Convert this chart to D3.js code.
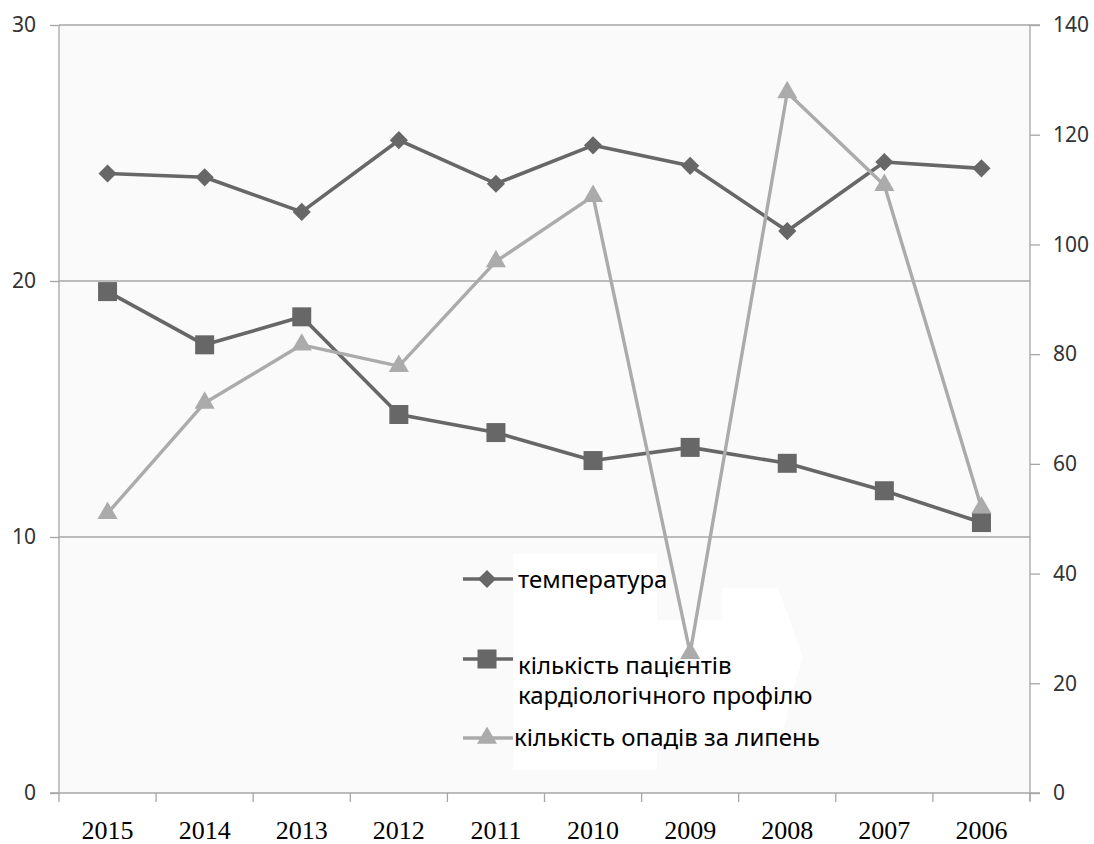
<!DOCTYPE html>
<html>
<head>
<meta charset="utf-8">
<script src="https://cdn.jsdelivr.net/npm/d3@7/dist/d3.min.js"></script>
<style>
  html, body { margin: 0; padding: 0; background: #ffffff; }
  svg { display: block; }
</style>
</head>
<body>
<svg id="chart" width="1094" height="844"></svg>
<script>
// ---- data ----
const years = ["2015","2014","2013","2012","2011","2010","2009","2008","2007","2006"];
const temperature = [24.2, 24.05, 22.7, 25.5, 23.8, 25.3, 24.5, 21.95, 24.65, 24.4];
const patients = [91.4, 81.7, 86.8, 69.0, 65.7, 60.6, 63.0, 60.1, 55.1, 49.3];
const rainfall = [51.0, 71.1, 81.7, 77.8, 96.9, 108.8, 25.5, 127.7, 110.8, 52.0];
const leftTicks = [0, 10, 20, 30];
const rightTicks = [0, 20, 40, 60, 80, 100, 120, 140];
const gridValues = [10, 20, 30];
const legendLabels = [["температура"], ["кількість пацієнтів", "кардіологічного профілю"], ["кількість опадів за липень"]];

// ---- layout ----
const L = 59, R = 1030, T = 25, B = 793;
const dark = "#676767", light = "#ababab", axisCol = "#a6a6a6";
const svg = d3.select("#chart");

const x = d3.scaleBand().domain(years).range([L, R]).paddingInner(0).paddingOuter(0);
const yL = d3.scaleLinear().domain([0, 30]).range([B, T]);
const yR = d3.scaleLinear().domain([0, 140]).range([B, T]);

// plot background
svg.append("rect").attr("x", L).attr("y", T).attr("width", R - L).attr("height", B - T).attr("fill", "#fafafa");

// white legend backdrop shapes
svg.append("rect").attr("x", 513).attr("y", 554).attr("width", 144).attr("height", 216).attr("fill", "#ffffff");
svg.append("path").attr("d", "M657,747 L657,620 L722,620 L722,588 L778,588 L803,657 L790,700 L780,747 Z").attr("fill", "#ffffff");

// gridlines
svg.append("g").selectAll("line").data(gridValues).join("line")
  .attr("x1", L).attr("x2", R).attr("y1", d => yL(d)).attr("y2", d => yL(d))
  .attr("stroke", axisCol).attr("stroke-width", 1.3);

// left axis
const gLeft = svg.append("g").attr("transform", `translate(${L},0)`)
  .call(d3.axisLeft(yL).tickValues(leftTicks).tickSize(9).tickPadding(14).tickFormat(d3.format("d")));
// right axis
const gRight = svg.append("g").attr("transform", `translate(${R},0)`)
  .call(d3.axisRight(yR).tickValues(rightTicks).tickSize(10).tickPadding(13).tickFormat(d3.format("d")));
[gLeft, gRight].forEach(g => {
  g.select(".domain").attr("stroke", axisCol).attr("stroke-width", 1.3);
  g.selectAll(".tick line").attr("stroke", axisCol).attr("stroke-width", 1.3);
  g.selectAll(".tick text").attr("fill", "#333333").style("font-family", "'Noto Sans', sans-serif").style("font-size", "21px");
});
gRight.select(".domain").attr("d", `M10,${T}H0V${B + 8}`);
gLeft.select(".domain").attr("d", `M0,${T}V${B}`);

// bottom axis
const gBottom = svg.append("g").attr("transform", `translate(0,${B})`)
  .call(d3.axisBottom(x).tickSize(0).tickPadding(28));
gBottom.select(".domain").attr("d", `M${L - 9},0H${R + 10}`).attr("stroke", axisCol).attr("stroke-width", 1.3);
gBottom.selectAll(".tick text").attr("fill", "#000").style("font-family", "'Liberation Serif', serif").style("font-size", "26px");
const boundaries = years.map(d => x(d)).concat([x(years[years.length - 1]) + x.bandwidth()]);
gBottom.append("g").selectAll("line").data(boundaries).join("line")
  .attr("x1", d => d).attr("x2", d => d).attr("y1", 0).attr("y2", 9)
  .attr("stroke", axisCol).attr("stroke-width", 1.3);

// series
const cx = d => x(d) + x.bandwidth() / 2;
const series = [
  { vals: temperature, scale: yL, color: dark, width: 3.6, sym: d3.symbolSquare, size: 165, rot: 45 },
  { vals: patients, scale: yR, color: dark, width: 3.6, sym: d3.symbolSquare, size: 361, rot: 0 },
  { vals: rainfall, scale: yR, color: light, width: 3.4, sym: d3.symbolTriangle, size: 175, rot: 0 }
];
const plotG = svg.append("g");
series.forEach(s => {
  const pts = years.map((yr, i) => [cx(yr), s.scale(s.vals[i])]);
  plotG.append("path").attr("d", d3.line()(pts)).attr("fill", "none")
    .attr("stroke", s.color).attr("stroke-width", s.width).attr("stroke-linejoin", "round");
  plotG.append("g").selectAll("path").data(pts).join("path")
    .attr("d", d3.symbol().type(s.sym).size(s.size))
    .attr("transform", p => `translate(${p[0]},${p[1]}) rotate(${s.rot})`)
    .attr("fill", s.color);
});

// legend
const legendRows = [
  { y: 579, textY: [588], tx: 518 },
  { y: 659, textY: [674, 704], tx: 518 },
  { y: 738, textY: [746], tx: 514 }
];
const lg = svg.append("g");
legendRows.forEach((row, i) => {
  const s = series[i];
  lg.append("line").attr("x1", 463).attr("x2", 513).attr("y1", row.y).attr("y2", row.y)
    .attr("stroke", s.color).attr("stroke-width", s.width);
  lg.append("path").attr("d", d3.symbol().type(s.sym).size(s.size))
    .attr("transform", `translate(487,${row.y}) rotate(${s.rot})`).attr("fill", s.color);
  legendLabels[i].forEach((t, j) => {
    lg.append("text").attr("x", row.tx).attr("y", row.textY[j]).text(t)
      .attr("fill", "#000").style("font-family", "'Noto Sans', sans-serif").style("font-size", "24px");
  });
});
</script>
</body>
</html>
